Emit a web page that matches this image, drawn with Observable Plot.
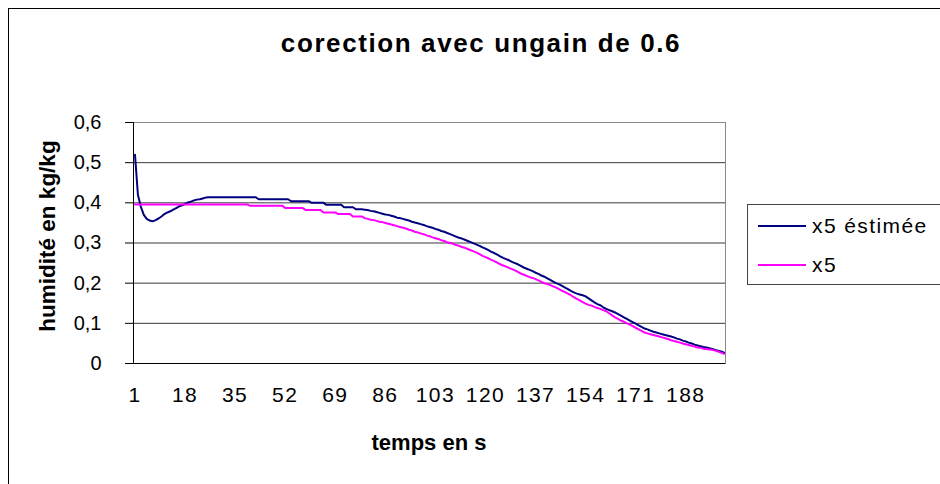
<!DOCTYPE html>
<html><head><meta charset="utf-8">
<script src="https://cdn.jsdelivr.net/npm/d3@7"></script>
<script src="https://cdn.jsdelivr.net/npm/@observablehq/plot@0.6"></script>
<style>
body{margin:0;width:940px;height:484px;overflow:hidden;background:#fff;position:relative;font-family:"Liberation Sans",Arial,sans-serif;color:#000}
#frame{position:absolute;left:8px;top:8px;width:960px;height:520px;border:1px solid #000;box-sizing:border-box}
#title{position:absolute;left:0;width:962px;top:30px;text-align:center;font-weight:bold;font-size:26px;line-height:26px;letter-spacing:1.6px;white-space:nowrap}
#ytitle{position:absolute;left:48px;top:236px;transform:translate(-50%,-50%) rotate(-90deg);font-weight:bold;font-size:22.5px;white-space:nowrap}
#xtitle{position:absolute;left:429px;top:443px;transform:translate(-50%,-50%);font-weight:bold;font-size:22px;white-space:nowrap}
#chart{position:absolute;left:0;top:0}
#legend{position:absolute;left:747px;top:204px;width:260px;height:81px;border:1px solid #444;box-sizing:border-box}
.row{position:absolute;left:0;height:24px;font-size:21px;line-height:24px;letter-spacing:1.4px;white-space:nowrap}
.sw{position:absolute;left:10px;top:11px;width:48px;height:2px}
.lab{position:absolute;left:64px;top:0}
</style>
</head><body>
<div id="frame"></div>
<div id="chart"></div>
<div id="title">corection avec ungain de 0.6</div>
<div id="ytitle">humidité en kg/kg</div>
<div id="xtitle">temps en s</div>
<div id="legend"></div>
<script>
// Categories / tick labels
const xTicks = [1, 18, 35, 52, 69, 86, 103, 120, 137, 154, 171, 188];
const yTicks = [0, 0.1, 0.2, 0.3, 0.4, 0.5, 0.6];
const seriesNames = ["x5 éstimée", "x5"];
const seriesColors = ["#000080", "#FF00FF"];

// Series values, one per second 1..201
const x5Estimee = [
0.520,0.420,0.390,0.370,0.360,0.356,0.354,0.357,0.361,0.366,
0.372,0.376,0.379,0.383,0.387,0.391,0.394,0.397,0.401,0.403,
0.406,0.408,0.409,0.411,0.413,0.414,0.414,0.414,0.414,0.414,
0.414,0.414,0.414,0.414,0.414,0.414,0.414,0.414,0.414,0.414,
0.414,0.414,0.409,0.409,0.409,0.409,0.409,0.409,0.409,0.409,
0.409,0.409,0.409,0.404,0.404,0.404,0.404,0.404,0.404,0.404,
0.400,0.400,0.400,0.400,0.400,0.395,0.395,0.395,0.395,0.395,
0.395,0.389,0.389,0.389,0.389,0.384,0.384,0.384,0.383,0.382,
0.380,0.379,0.377,0.375,0.373,0.371,0.370,0.368,0.366,0.363,
0.362,0.360,0.358,0.356,0.353,0.351,0.349,0.347,0.345,0.342,
0.340,0.338,0.335,0.333,0.330,0.328,0.325,0.322,0.319,0.316,
0.313,0.311,0.308,0.305,0.302,0.299,0.296,0.293,0.289,0.286,
0.282,0.278,0.275,0.271,0.267,0.263,0.260,0.257,0.253,0.250,
0.247,0.243,0.239,0.236,0.233,0.230,0.226,0.223,0.219,0.216,
0.212,0.208,0.204,0.200,0.197,0.193,0.189,0.185,0.181,0.177,
0.174,0.172,0.170,0.167,0.162,0.157,0.152,0.148,0.145,0.140,
0.136,0.133,0.130,0.127,0.123,0.119,0.115,0.111,0.107,0.103,
0.099,0.095,0.091,0.087,0.085,0.082,0.079,0.077,0.075,0.073,
0.071,0.069,0.067,0.065,0.062,0.060,0.057,0.055,0.052,0.050,
0.047,0.045,0.043,0.041,0.040,0.038,0.036,0.034,0.032,0.030,
0.027];

const x5 = [
0.396,0.396,0.396,0.396,0.396,0.396,0.396,0.396,0.396,0.396,
0.396,0.396,0.396,0.396,0.396,0.396,0.396,0.396,0.396,0.396,
0.396,0.396,0.396,0.396,0.396,0.396,0.396,0.396,0.396,0.396,
0.396,0.396,0.396,0.396,0.396,0.396,0.396,0.396,0.396,0.393,
0.393,0.393,0.393,0.393,0.393,0.393,0.393,0.393,0.393,0.393,
0.393,0.387,0.387,0.387,0.387,0.387,0.387,0.387,0.382,0.382,
0.382,0.382,0.382,0.382,0.376,0.376,0.376,0.376,0.376,0.372,
0.372,0.372,0.372,0.372,0.366,0.366,0.366,0.366,0.362,0.360,
0.358,0.357,0.355,0.353,0.352,0.350,0.348,0.346,0.344,0.342,
0.340,0.338,0.336,0.333,0.331,0.328,0.326,0.324,0.322,0.319,
0.317,0.314,0.312,0.310,0.307,0.305,0.302,0.300,0.298,0.295,
0.293,0.290,0.288,0.285,0.282,0.279,0.276,0.272,0.268,0.265,
0.262,0.258,0.255,0.251,0.247,0.244,0.241,0.238,0.235,0.232,
0.228,0.224,0.221,0.218,0.215,0.213,0.210,0.207,0.203,0.200,
0.198,0.195,0.192,0.189,0.185,0.181,0.178,0.174,0.170,0.165,
0.161,0.157,0.153,0.149,0.146,0.144,0.141,0.138,0.136,0.133,
0.130,0.125,0.120,0.115,0.111,0.107,0.104,0.100,0.097,0.093,
0.089,0.085,0.081,0.077,0.075,0.073,0.071,0.069,0.067,0.065,
0.063,0.061,0.058,0.056,0.054,0.052,0.050,0.048,0.046,0.044,
0.042,0.040,0.039,0.037,0.036,0.035,0.034,0.032,0.030,0.027,
0.024];

const temps = d3.range(1, x5.length + 1);
const rows = temps.map((t, i) => ({t, est: x5Estimee[i], x5: x5[i]}));

const chart = Plot.plot({
  width: 940,
  height: 420,
  marginLeft: 133,
  marginRight: 215,
  marginTop: 122,
  marginBottom: 57,
  style: {fontFamily: '"Liberation Sans", Arial, sans-serif', fontSize: "20px", background: "transparent", overflow: "visible", color: "#000"},
  x: {type: "linear", domain: [0.5, x5.length + 0.5], ticks: xTicks, tickSize: 0, tickPadding: 24, label: null, tickFormat: d => String(d)},
  y: {domain: [0, 0.6], ticks: yTicks, tickSize: 8, tickPadding: 24, label: null,
      tickFormat: d => d === 0 ? "0" : d3.format(".1f")(d).replace(".", ",")},
  marks: [
    Plot.frame({stroke: "#888"}),
    Plot.ruleY(yTicks.filter(v => v > 0 && v < 0.6), {stroke: "#3a3a3a"}),
    Plot.line(rows, {x: "t", y: "est", stroke: seriesColors[0], strokeWidth: 2}),
    Plot.line(rows, {x: "t", y: "x5", stroke: seriesColors[1], strokeWidth: 2}),
    Plot.ruleX([0.5], {stroke: "#000"}),
    Plot.ruleY([0], {stroke: "#000"})
  ]
});
d3.select(chart).selectAll('g[aria-label="x-axis tick label"]')
  .style("font-size", "21px").style("letter-spacing", "1.4px");
document.getElementById("chart").appendChild(chart);

// Legend
const legend = document.getElementById("legend");
seriesNames.forEach((name, i) => {
  const r = document.createElement("div");
  r.className = "row";
  r.style.top = (i === 0 ? 9 : 48) + "px";
  const sw = document.createElement("div");
  sw.className = "sw";
  sw.style.background = seriesColors[i];
  const lb = document.createElement("div");
  lb.className = "lab";
  lb.textContent = name;
  r.appendChild(sw); r.appendChild(lb);
  legend.appendChild(r);
});
</script>
</body></html>
